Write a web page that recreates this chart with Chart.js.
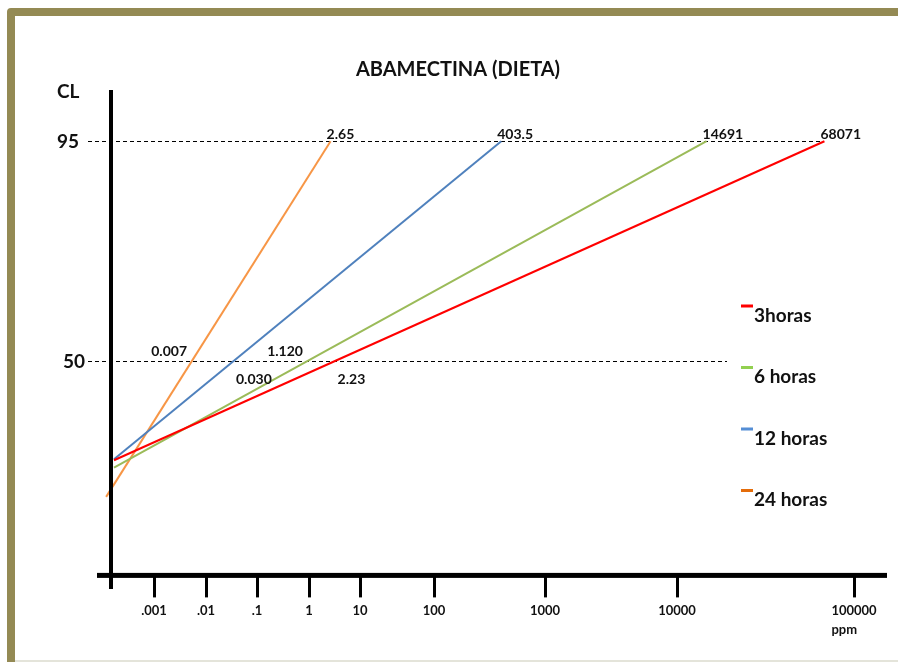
<!DOCTYPE html>
<html>
<head>
<meta charset="utf-8">
<script src="https://cdn.jsdelivr.net/npm/chart.js@4.4.1/dist/chart.umd.min.js"></script>
<style>
  html, body { margin: 0; padding: 0; background: #ffffff; }
  #c { display: block; }
</style>
</head>
<body>
<canvas id="c" width="898" height="662"></canvas>
<script>
// Series: exposure time
const series = ['3horas', '6 horas', '12 horas', '24 horas'];
// CL95 and CL50 concentrations (ppm), as printed on the chart
const lc95Labels = ['68071', '14691', '403.5', '2.65'];
const lc50Labels = ['2.23', '1.120', '0.030', '0.007'];
// Where each line begins at the left of the axis (ppm, CL)
const startPpm = [0.00017, 0.00017, 0.00017, 0.00012];
const startCL = [29.6, 28.1, 29.8, 22.1];
// Concentration axis
const tickValues = [0.001, 0.01, 0.1, 1, 10, 100, 1000, 10000, 100000];
const tickLabels = ['.001', '.01', '.1', '1', '10', '100', '1000', '10000', '100000'];
// Reference levels on the CL axis
const clLevels = [95, 50];
const clLabels = ['95', '50'];

// ---- styling / layout ----
const lineColors = ['#FF0000', '#9BBB59', '#4F81BD', '#F79646'];
const keyColors = ['#FF0000', '#92D050', '#558ED5', '#E46C0A'];
const FONT = 'Lato, "Open Sans", "DejaVu Sans", sans-serif';
// hand-spaced decade positions along the concentration axis (axis units)
const decadeAt = [43, 95, 146, 198, 249, 323, 434, 566, 743];
const X_SPAN = 776;

// ppm -> axis units, log-interpolated between the decade marks
function toAxis(ppm) {
  const L = Math.log10(ppm);
  const first = Math.log10(tickValues[0]);
  const k = L - first;
  const n = decadeAt.length;
  if (k <= 0) return decadeAt[0] + k * (decadeAt[1] - decadeAt[0]);
  if (k >= n - 1) return decadeAt[n - 1] + (k - (n - 1)) * (decadeAt[n - 1] - decadeAt[n - 2]);
  const i = Math.floor(k);
  return decadeAt[i] + (k - i) * (decadeAt[i + 1] - decadeAt[i]);
}

const lc95 = lc95Labels.map(Number);
const lc50 = lc50Labels.map(Number);

const datasets = series.map((name, i) => ({
  label: name,
  data: [
    { x: toAxis(startPpm[i]), y: startCL[i] },
    { x: toAxis(lc95[i]), y: 95 }
  ],
  borderColor: lineColors[i],
  backgroundColor: lineColors[i],
  borderWidth: 2,
  pointRadius: 0,
  tension: 0,
  fill: false,
  clip: false
}));

const lc50Place = ['below', 'above', 'below', 'above'];

const decor = {
  id: 'decor',
  beforeDraw(chart) {
    const c = chart.ctx;
    c.save();
    c.fillStyle = '#ffffff';
    c.fillRect(0, 0, chart.width, chart.height);
    // olive frame (top and left)
    c.fillStyle = '#948A54';
    c.beginPath();
    c.moveTo(7, chart.height);
    c.lineTo(7, 12);
    c.quadraticCurveTo(7, 8, 11, 8);
    c.lineTo(chart.width, 8);
    c.lineTo(chart.width, 16);
    c.lineTo(15, 16);
    c.lineTo(15, chart.height);
    c.closePath();
    c.fill();
    c.fillStyle = '#E4E4DA';
    c.fillRect(15, 660, chart.width - 15, 2);
    c.restore();
  },
  beforeDatasetsDraw(chart) {
    const c = chart.ctx;
    const ys = chart.scales.y;
    const ext = [[88, 822], [88, 727]];
    c.save();
    c.strokeStyle = '#000';
    c.lineWidth = 1;
    c.setLineDash([4, 3]);
    clLevels.forEach((v, i) => {
      const y = Math.round(ys.getPixelForValue(v)) + 0.5;
      c.beginPath();
      c.moveTo(ext[i][0], y);
      c.lineTo(ext[i][1], y);
      c.stroke();
    });
    c.restore();
  },
  afterDatasetsDraw(chart) {
    const c = chart.ctx;
    const ca = chart.chartArea;
    const xs = chart.scales.x, ys = chart.scales.y;
    c.save();
    // axes
    c.fillStyle = '#000';
    c.fillRect(97, ca.bottom - 2.5, 790, 5);
    c.fillRect(ca.left - 2, ca.top, 4, 589 - ca.top);

    // title
    c.fillStyle = '#111';
    c.textAlign = 'center';
    c.textBaseline = 'alphabetic';
    c.font = 'bold 20px ' + FONT;
    c.fillText('ABAMECTINA (DIETA)', 458, 76);

    // CL axis labels
    c.textAlign = 'left';
    c.font = 'bold 19px ' + FONT;
    c.fillText('CL', 57, 98);
    const lx = [57, 63];
    clLevels.forEach((v, i) => {
      c.fillText(clLabels[i], lx[i], ys.getPixelForValue(v) + 7);
    });

    // value labels
    c.font = 'bold 14px ' + FONT;
    const y50 = ys.getPixelForValue(50);
    series.forEach((name, i) => {
      const pts = chart.getDatasetMeta(i).data;
      const p0 = pts[0], p1 = pts[1];
      c.textAlign = 'left';
      c.fillText(lc95Labels[i], p1.x - 4, p1.y - 2);
      const t = (p0.y - y50) / (p0.y - p1.y);
      const cx = p0.x + t * (p1.x - p0.x);
      if (lc50Place[i] === 'above') {
        c.textAlign = 'right';
        c.fillText(lc50Labels[i], cx - 5, y50 - 5);
      } else {
        c.textAlign = 'left';
        c.fillText(lc50Labels[i], cx + 2, y50 + 23);
      }
    });

    // unit under the last concentration tick
    c.font = 'bold 13px ' + FONT;
    c.textAlign = 'left';
    const lastX = xs.getPixelForValue(decadeAt[decadeAt.length - 1]);
    const w = c.measureText(tickLabels[tickLabels.length - 1]).width;
    c.fillText('ppm', lastX - w / 2, 634);

    // key
    c.font = 'bold 19px ' + FONT;
    series.forEach((name, i) => {
      const base = 321.5 + i * 61.5;
      c.fillStyle = keyColors[i];
      c.fillRect(741, base - 17, 12, 3);
      c.fillStyle = '#111';
      c.fillText(name, 754, base);
    });
    c.restore();
  }
};

new Chart(document.getElementById('c'), {
  type: 'line',
  data: { datasets },
  options: {
    responsive: false,
    animation: false,
    devicePixelRatio: 1,
    layout: { padding: { left: 111, right: 11, top: 90, bottom: 37 } },
    scales: {
      x: {
        type: 'linear',
        min: 0,
        max: X_SPAN,
        afterBuildTicks(scale) {
          scale.ticks = decadeAt.map(v => ({ value: v }));
        },
        ticks: {
          autoSkip: false,
          maxRotation: 0,
          minRotation: 0,
          padding: 6,
          color: '#111',
          font: { family: FONT, size: 13, weight: 'bold' },
          callback: (v, i) => tickLabels[i]
        },
        grid: {
          drawOnChartArea: false,
          drawTicks: true,
          tickLength: 22,
          lineWidth: 3,
          color: '#000'
        },
        border: { display: false }
      },
      y: {
        type: 'linear',
        min: 6,
        max: 105.5,
        display: false
      }
    },
    plugins: {
      legend: { display: false },
      title: { display: false },
      tooltip: { enabled: false }
    }
  },
  plugins: [decor]
});
</script>
</body>
</html>
